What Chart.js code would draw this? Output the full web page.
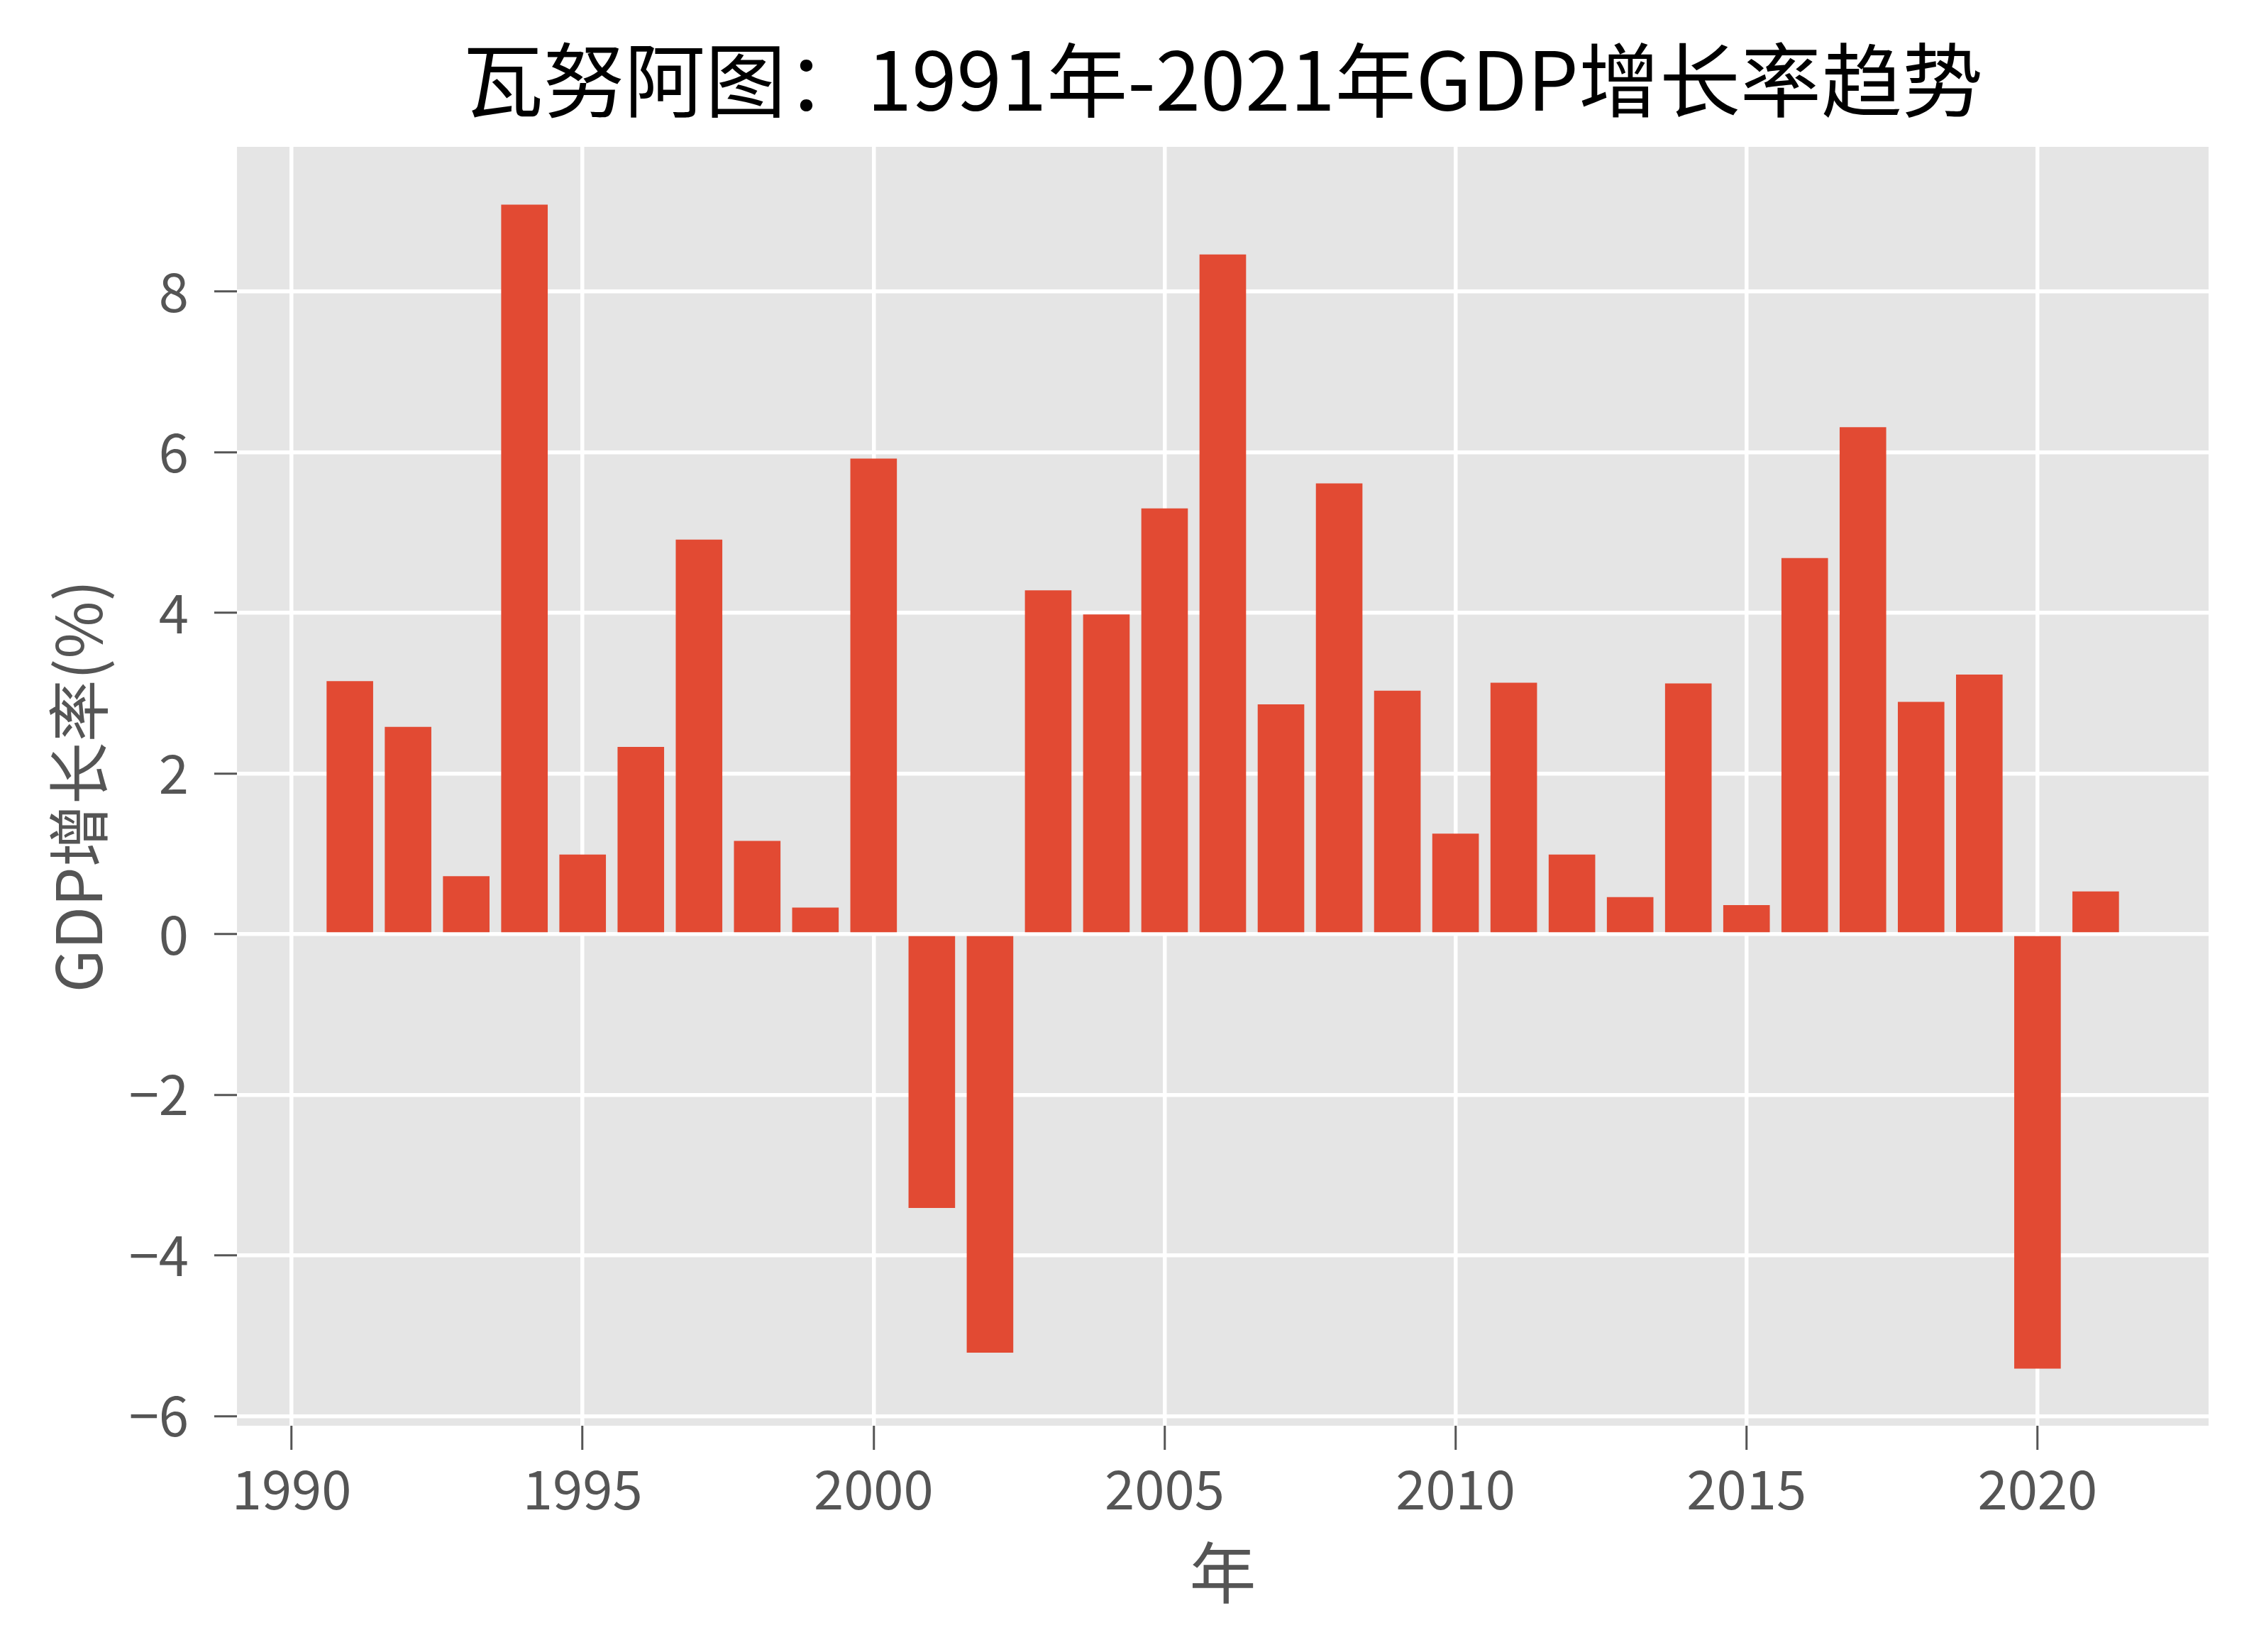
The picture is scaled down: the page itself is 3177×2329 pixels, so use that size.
<!DOCTYPE html>
<html>
<head>
<meta charset="utf-8">
<script src="https://cdn.jsdelivr.net/npm/chart.js@4/dist/chart.umd.min.js"></script>
<style>
  body { margin: 0; background: #fff; }
  canvas { display: block; }
</style>
</head>
<body>
<canvas id="myChart" width="3177" height="2329"></canvas>
<script>
const titleText = "瓦努阿图：1991年-2021年GDP增长率趋势";
const xTitle = "年";
const yTitle = "GDP增长率(%)";

const years = [
  1991, 1992, 1993, 1994, 1995, 1996, 1997, 1998, 1999, 2000,
  2001, 2002, 2003, 2004, 2005, 2006, 2007, 2008, 2009, 2010,
  2011, 2012, 2013, 2014, 2015, 2016, 2017, 2018, 2019, 2020, 2021
];
const growth = [
  3.15, 2.58, 0.72, 9.08, 0.99, 2.33, 4.91, 1.16, 0.33, 5.92,
  -3.41, -5.21, 4.28, 3.98, 5.30, 8.46, 2.86, 5.61, 3.03, 1.25,
  3.13, 0.99, 0.46, 3.12, 0.36, 4.68, 6.31, 2.89, 3.23, -5.41, 0.53
];

const font = "'Noto Sans CJK SC', 'Noto Sans', sans-serif";
const tickGrey = "#555555";

// grey panel behind the bars (ggplot look)
const panelBg = {
  id: "panelBg",
  beforeDraw(chart) {
    const { ctx, chartArea: a } = chart;
    ctx.save();
    ctx.fillStyle = "#E5E5E5";
    ctx.fillRect(a.left, a.top, a.right - a.left, a.bottom - a.top);
    ctx.restore();
  }
};

// title centred over the plot panel, like matplotlib does
const panelTitle = {
  id: "panelTitle",
  afterDraw(chart) {
    const { ctx, chartArea: a } = chart;
    ctx.save();
    ctx.fillStyle = "#000";
    ctx.font = "114px " + font;
    ctx.textAlign = "center";
    ctx.textBaseline = "middle";
    ctx.fillText(titleText, (a.left + a.right) / 2, 113);
    ctx.restore();
  }
};

const ctx = document.getElementById("myChart").getContext("2d");

new Chart(ctx, {
  type: "bar",
  data: {
    labels: years,
    datasets: [{
      data: growth,
      backgroundColor: "#E24A33",
      borderWidth: 0,
      barPercentage: 0.8,
      categoryPercentage: 1.0
    }]
  },
  options: {
    responsive: false,
    animation: false,
    devicePixelRatio: 1,
    layout: { padding: { left: 0, right: 64, top: 207, bottom: 0 } },
    plugins: {
      legend: { display: false },
      tooltip: { enabled: false },
      title: { display: false }
    },
    scales: {
      x: {
        type: "linear",
        offset: false,
        min: 1989.06,
        max: 2022.94,
        afterFit: s => { s.height = 319; },
        border: { display: false },
        grid: {
          offset: false,
          color: "#FFFFFF",
          lineWidth: 5.5,
          tickColor: tickGrey,
          tickWidth: 3,
          tickLength: 34
        },
        ticks: {
          stepSize: 5,
          includeBounds: false,
          autoSkip: false,
          maxRotation: 0,
          color: tickGrey,
          padding: 10,
          font: { family: font, size: 76 },
          callback: v => String(v)
        },
        title: {
          display: true,
          text: xTitle,
          color: tickGrey,
          font: { family: font, size: 94 },
          padding: { top: 0, bottom: 55 }
        }
      },
      y: {
        min: -6.12,
        max: 9.8,
        afterFit: s => { s.width = 334; },
        border: { display: false },
        grid: {
          color: "#FFFFFF",
          lineWidth: 5.5,
          tickColor: tickGrey,
          tickWidth: 3,
          tickLength: 32
        },
        ticks: {
          stepSize: 2,
          includeBounds: false,
          color: tickGrey,
          padding: 36,
          font: { family: font, size: 76 },
          callback: v => (v < 0 ? "\u2212" + Math.abs(v) : String(v))
        },
        title: {
          display: true,
          text: yTitle,
          color: tickGrey,
          font: { family: font, size: 88 },
          padding: { top: 58, bottom: 0 }
        }
      }
    }
  },
  plugins: [panelBg, panelTitle]
});
</script>
</body>
</html>
